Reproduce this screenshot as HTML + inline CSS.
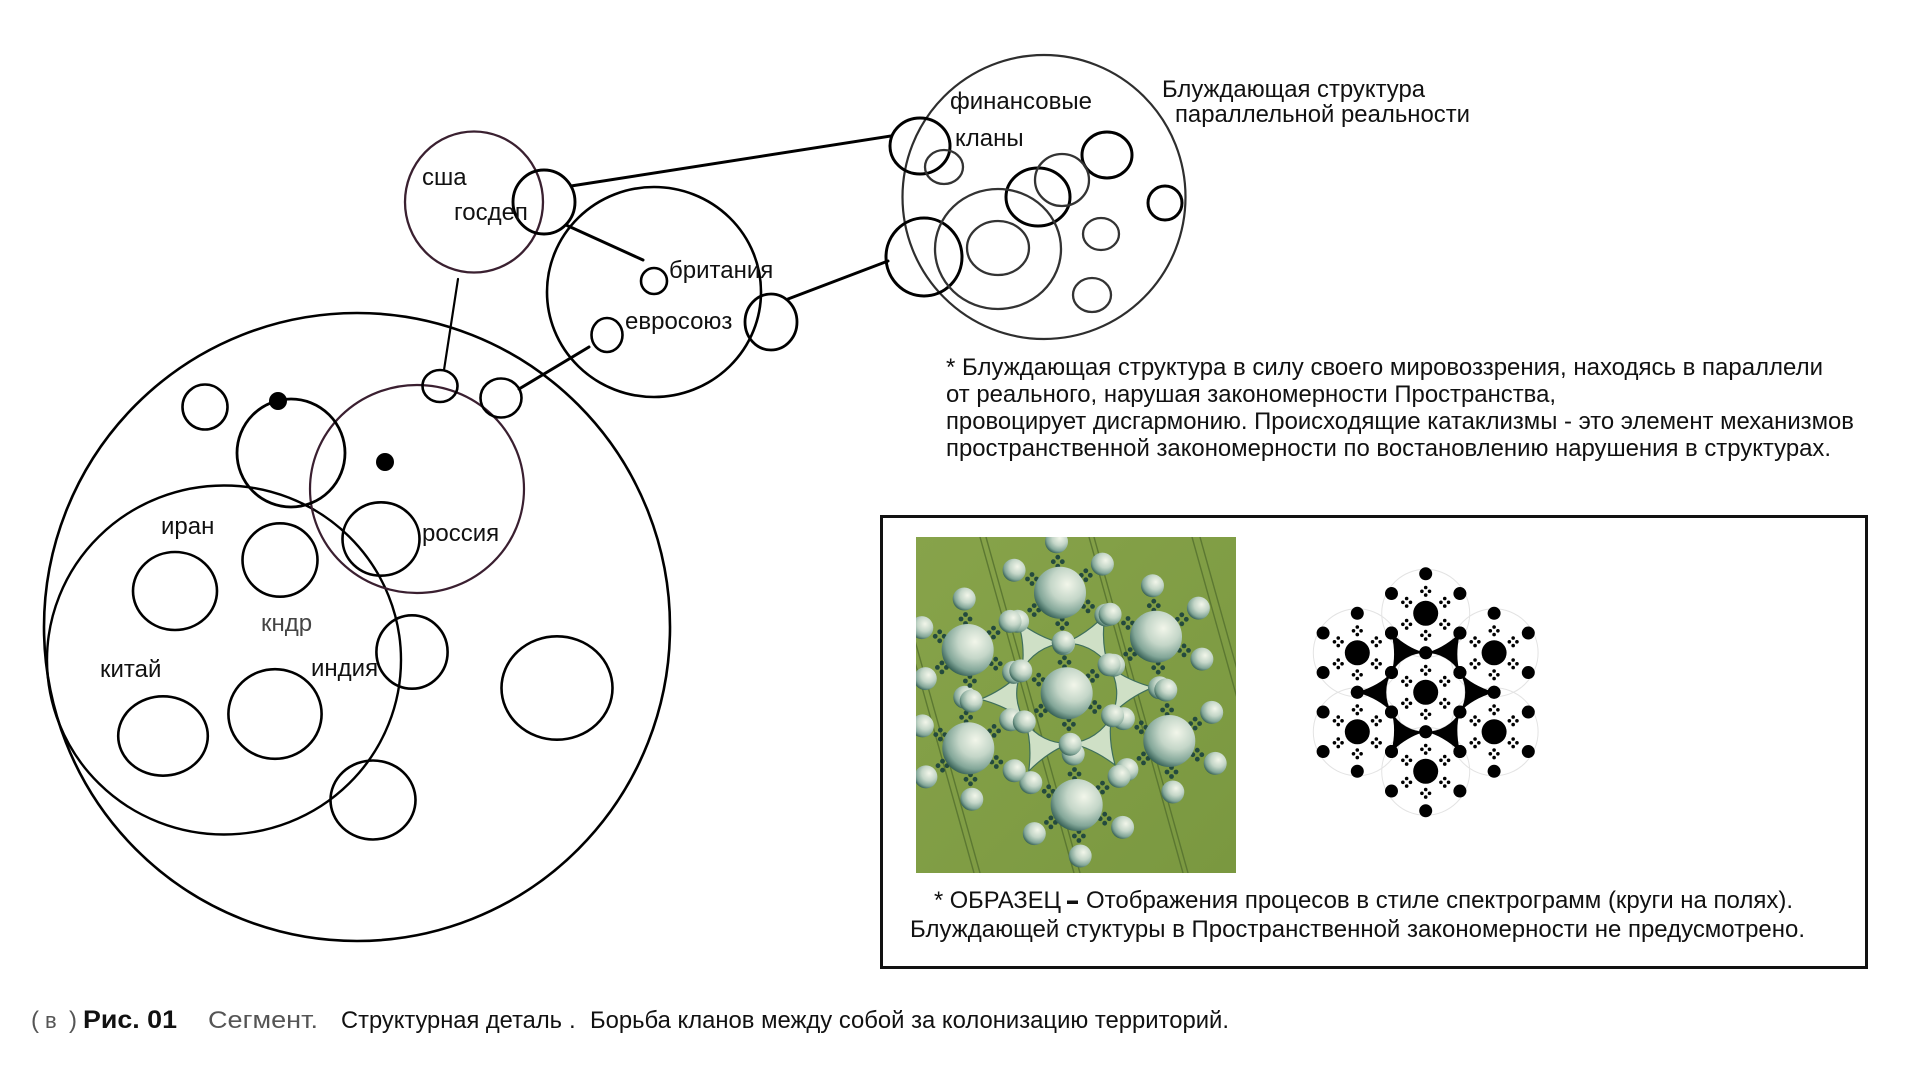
<!DOCTYPE html>
<html><head><meta charset="utf-8">
<style>
html,body{margin:0;padding:0;background:#fff;}
svg{display:block;}
text{font-family:"Liberation Sans",Arial,sans-serif;font-size:24px;fill:#111;}
</style></head><body>
<svg width="1920" height="1080" viewBox="0 0 1920 1080" xmlns="http://www.w3.org/2000/svg">
<defs>
 <radialGradient id="pg" cx="0.64" cy="0.34" r="0.72">
  <stop offset="0" stop-color="#f2f6ea"/>
  <stop offset="0.45" stop-color="#c4d6c8"/>
  <stop offset="0.78" stop-color="#82a698"/>
  <stop offset="1" stop-color="#2f5a50"/>
 </radialGradient>
 <linearGradient id="fg" x1="0" y1="0" x2="1" y2="1">
  <stop offset="0" stop-color="#87a34a"/>
  <stop offset="1" stop-color="#7a9840"/>
 </linearGradient>
 <clipPath id="cpc"><rect x="0" y="0" width="320" height="336"/></clipPath>
 <g id="x4"><circle cx="0" cy="-3.8" r="1.8"/><circle cx="3.8" cy="0" r="1.8"/><circle cx="0" cy="3.8" r="1.8"/><circle cx="-3.8" cy="0" r="1.8"/></g>
 <g id="x5"><circle cx="0" cy="-4.5" r="2.4"/><circle cx="4.5" cy="0" r="2.4"/><circle cx="0" cy="4.5" r="2.4"/><circle cx="-4.5" cy="0" r="2.4"/></g>
 <g id="bc">
  <circle r="12.5"/>
  <circle cx="0" cy="-39.5" r="6.5"/><circle cx="34.2" cy="-19.75" r="6.5"/><circle cx="34.2" cy="19.75" r="6.5"/>
  <circle cx="0" cy="39.5" r="6.5"/><circle cx="-34.2" cy="19.75" r="6.5"/><circle cx="-34.2" cy="-19.75" r="6.5"/>
  <use href="#x4" x="0" y="-22"/><use href="#x4" x="19.05" y="-11"/><use href="#x4" x="19.05" y="11"/>
  <use href="#x4" x="0" y="22"/><use href="#x4" x="-19.05" y="11"/><use href="#x4" x="-19.05" y="-11"/>
 </g>
 <path id="bt" d="M34.21,-19.75 A39.5,39.5 0 0 1 34.21,19.75 Q46,7 68.42,0 Q46,-7 34.21,-19.75Z"/>
 <path id="ct" d="M43.3,-25 A50,50 0 0 1 43.3,25 Q60,9 86.6,0 Q60,-9 43.3,-25Z"/>
 <g id="cc">
  <g fill="#244a3e">
   <use href="#x5" x="-2.2" y="-31"/><use href="#x5" x="25.8" y="-17.4"/><use href="#x5" x="28" y="13.7"/>
   <use href="#x5" x="2.2" y="31"/><use href="#x5" x="-25.8" y="17.4"/><use href="#x5" x="-28" y="-13.7"/>
  </g>
  <g fill="url(#pg)">
   <circle cx="-3.5" cy="-51" r="11.5"/><circle cx="42.4" cy="-28.6" r="11.5"/><circle cx="45.9" cy="22.4" r="11.5"/>
   <circle cx="3.5" cy="51" r="11.5"/><circle cx="-42.4" cy="28.6" r="11.5"/><circle cx="-45.9" cy="-22.4" r="11.5"/>
   <circle r="26"/>
  </g>
 </g>
</defs>

<rect width="1920" height="1080" fill="#fff"/>

<!-- LEFT BIG STRUCTURE -->
<g fill="none" stroke="#000" stroke-width="2.6">
 <ellipse cx="357" cy="627" rx="313" ry="314"/>
 <ellipse cx="224" cy="660" rx="177" ry="174.5" stroke-width="2.4"/>
 <ellipse cx="417" cy="489" rx="107" ry="104" stroke="#3a1f30" stroke-width="2.2"/>
 <circle cx="291" cy="453" r="54" stroke-width="2.8"/>
 <circle cx="205" cy="407" r="22.5"/>
 <ellipse cx="440" cy="386" rx="17.5" ry="16"/>
 <ellipse cx="501" cy="398" rx="20.5" ry="19.5"/>
 <ellipse cx="381" cy="539" rx="38.5" ry="36.7"/>
 <ellipse cx="280" cy="560" rx="37.5" ry="36.7"/>
 <ellipse cx="175" cy="591" rx="42" ry="39"/>
 <ellipse cx="412" cy="652" rx="35.6" ry="36.7"/>
 <ellipse cx="275" cy="714" rx="46.6" ry="44.8"/>
 <ellipse cx="163" cy="736" rx="44.8" ry="39.7"/>
 <ellipse cx="557" cy="688" rx="55.5" ry="51.7"/>
 <ellipse cx="373" cy="800" rx="42.5" ry="39.5"/>
</g>
<circle cx="278" cy="401" r="9" fill="#000"/>
<circle cx="385" cy="462" r="9" fill="#000"/>

<!-- TOP STRUCTURES -->
<g fill="none" stroke="#000" stroke-width="2.6">
 <ellipse cx="474" cy="202" rx="69" ry="70.5" stroke="#3a2030" stroke-width="2.3"/>
 <ellipse cx="544" cy="202" rx="31" ry="32" stroke-width="2.9"/>
 <ellipse cx="654" cy="292" rx="107" ry="105"/>
 <circle cx="654" cy="281" r="13"/>
 <ellipse cx="607" cy="335" rx="15.5" ry="17"/>
 <ellipse cx="771" cy="322" rx="26" ry="28" stroke-width="2.8"/>
</g>

<!-- RIGHT WANDERING STRUCTURE -->
<g fill="none">
 <ellipse cx="1044" cy="197" rx="141.5" ry="142" stroke="#2e2e2e" stroke-width="2.2"/>
 <g stroke="#000" stroke-width="3">
  <ellipse cx="920" cy="146" rx="30" ry="28"/>
  <ellipse cx="924" cy="257" rx="38" ry="39"/>
  <ellipse cx="1038" cy="197" rx="32" ry="29"/>
  <ellipse cx="1107" cy="155" rx="25" ry="23"/>
  <ellipse cx="1165" cy="203" rx="17" ry="17"/>
 </g>
 <g stroke="#333" stroke-width="2.3">
  <ellipse cx="944" cy="167" rx="19" ry="17"/>
  <ellipse cx="998" cy="249" rx="63" ry="60"/>
  <ellipse cx="998" cy="248" rx="31" ry="27"/>
  <ellipse cx="1062" cy="180" rx="27" ry="26"/>
  <ellipse cx="1101" cy="234" rx="18" ry="16"/>
  <ellipse cx="1092" cy="295" rx="19" ry="17"/>
 </g>
</g>

<!-- CONNECTORS -->
<g stroke="#000" stroke-width="3" stroke-linecap="round">
 <line x1="571" y1="186" x2="891" y2="136"/>
 <line x1="566" y1="225" x2="643" y2="260"/>
 <line x1="458" y1="279" x2="444" y2="370" stroke-width="2.2"/>
 <line x1="589" y1="347" x2="519" y2="389"/>
 <line x1="788" y1="299" x2="888" y2="261"/>
</g>

<!-- LABELS -->
<text x="422" y="185">сша</text>
<text x="454" y="220">госдеп</text>
<text x="669" y="278">британия</text>
<text x="625" y="329">евросоюз</text>
<text x="161" y="534">иран</text>
<text x="261" y="631" style="fill:#444">кндр</text>
<text x="100" y="677">китай</text>
<text x="311" y="676">индия</text>
<text x="422" y="541">россия</text>
<text x="950" y="109">финансовые</text>
<text x="955" y="146">кланы</text>
<text x="1162" y="97" textLength="263" lengthAdjust="spacingAndGlyphs">Блуждающая структура</text>
<text x="1175" y="122" textLength="295" lengthAdjust="spacingAndGlyphs">параллельной реальности</text>

<text x="946" y="375" textLength="877" lengthAdjust="spacingAndGlyphs">* Блуждающая структура в силу своего мировоззрения, находясь в параллели</text>
<text x="946" y="402" textLength="610" lengthAdjust="spacingAndGlyphs">от реального, нарушая закономерности Пространства,</text>
<text x="946" y="429" textLength="908" lengthAdjust="spacingAndGlyphs">провоцирует дисгармонию. Происходящие катаклизмы - это элемент механизмов</text>
<text x="946" y="456" textLength="885" lengthAdjust="spacingAndGlyphs">пространственной закономерности по востановлению нарушения в структурах.</text>

<!-- SAMPLE BOX -->
<rect x="881.5" y="516.5" width="985" height="451" fill="none" stroke="#111" stroke-width="3"/>

<!-- crop circle photo -->
<g transform="translate(916,537)" clip-path="url(#cpc)">
 <rect width="320" height="336" fill="url(#fg)"/>
 <g stroke="#56722f" stroke-width="1.4" opacity="0.85">
  <line x1="-36" y1="0" x2="58" y2="336"/><line x1="-30" y1="0" x2="64" y2="336"/>
  <line x1="64" y1="0" x2="158" y2="336"/><line x1="70" y1="0" x2="164" y2="336"/>
  <line x1="173" y1="0" x2="267" y2="336"/><line x1="178" y1="0" x2="272" y2="336"/>
  <line x1="276" y1="0" x2="370" y2="336"/><line x1="284" y1="0" x2="378" y2="336"/>
 </g>
 <g transform="translate(150.7,156.3)" fill="#cfe0c6" stroke="#3f6f5c" stroke-width="1.2">
  <use href="#ct" transform="rotate(-4)"/><use href="#ct" transform="rotate(56)"/><use href="#ct" transform="rotate(116)"/>
  <use href="#ct" transform="rotate(176)"/><use href="#ct" transform="rotate(236)"/><use href="#ct" transform="rotate(296)"/>
 </g>
 <use href="#cc" x="144" y="55.7"/>
 <use href="#cc" x="240" y="99.7"/>
 <use href="#cc" x="253.3" y="204"/>
 <use href="#cc" x="160.7" y="268"/>
 <use href="#cc" x="52.3" y="211.3"/>
 <use href="#cc" x="51.7" y="113"/>
 <use href="#cc" x="150.7" y="156.3"/>
</g>

<!-- black pattern -->
<g fill="none" stroke="#e3e3e3" stroke-width="1">
 <circle cx="1425.7" cy="692.3" r="39.5" stroke="#cfcfcf"/>
 <circle cx="1425.7" cy="613.3" r="44"/><circle cx="1494.1" cy="652.8" r="44"/><circle cx="1494.1" cy="731.8" r="44"/>
 <circle cx="1425.7" cy="771.3" r="44"/><circle cx="1357.3" cy="731.8" r="44"/><circle cx="1357.3" cy="652.8" r="44"/>
</g>
<g fill="#000">
 <g transform="translate(1425.7,692.3)">
  <use href="#bt"/><use href="#bt" transform="rotate(60)"/><use href="#bt" transform="rotate(120)"/>
  <use href="#bt" transform="rotate(180)"/><use href="#bt" transform="rotate(240)"/><use href="#bt" transform="rotate(300)"/>
 </g>
 <use href="#bc" x="1425.7" y="692.3"/>
 <use href="#bc" x="1425.7" y="613.3"/>
 <use href="#bc" x="1494.1" y="652.8"/>
 <use href="#bc" x="1494.1" y="731.8"/>
 <use href="#bc" x="1425.7" y="771.3"/>
 <use href="#bc" x="1357.3" y="731.8"/>
 <use href="#bc" x="1357.3" y="652.8"/>
</g>

<text x="934" y="908" textLength="127" lengthAdjust="spacingAndGlyphs">* ОБРАЗЕЦ</text>
<rect x="1067" y="900.5" width="11" height="3.5" fill="#111"/>
<text x="1086" y="908" textLength="707" lengthAdjust="spacingAndGlyphs">Отображения процесов в стиле спектрограмм (круги на полях).</text>
<text x="910" y="937" textLength="895" lengthAdjust="spacingAndGlyphs">Блуждающей стуктуры в Пространственной закономерности не предусмотрено.</text>

<!-- CAPTION -->
<text x="31" y="1028" style="fill:#555">(</text>
<text x="45" y="1028" style="fill:#555;font-size:22px">в</text>
<text x="69" y="1028" style="fill:#555">)</text>
<text x="83" y="1028" style="font-weight:bold;font-size:25px" textLength="94" lengthAdjust="spacingAndGlyphs">Рис. 01</text>
<text x="208" y="1028" style="fill:#555" textLength="110" lengthAdjust="spacingAndGlyphs">Сегмент.</text>
<text x="341" y="1028" textLength="221" lengthAdjust="spacingAndGlyphs">Структурная деталь</text>
<text x="569" y="1028">.</text>
<text x="590" y="1028" textLength="639" lengthAdjust="spacingAndGlyphs">Борьба кланов между собой за колонизацию территорий.</text>
</svg>
</body></html>
